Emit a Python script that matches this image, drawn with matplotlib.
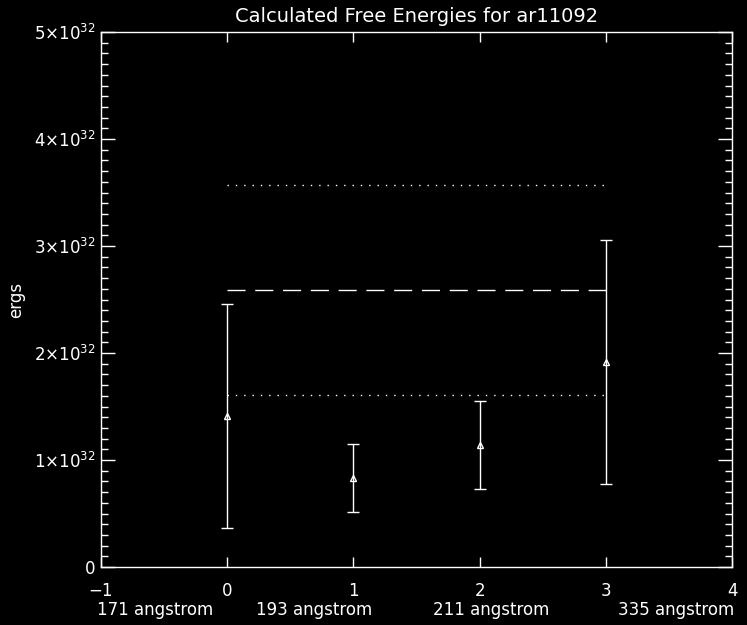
import matplotlib
matplotlib.use("Agg")
import matplotlib.pyplot as plt
from matplotlib.ticker import MultipleLocator, FixedLocator, FuncFormatter

# ---- data ----
positions = [0, 1, 2, 3]
wavelength_labels = ["171 angstrom", "193 angstrom", "211 angstrom", "335 angstrom"]
energy = [1.41e32, 0.83e32, 1.14e32, 1.92e32]
energy_err = [1.05e32, 0.32e32, 0.41e32, 1.14e32]
mean_level = 2.585e32
lower_level = 1.605e32
upper_level = 3.57e32
title = "Calculated Free Energies for ar11092"
ylabel = "ergs"

fg = "white"
bg = "black"

plt.rcParams["font.family"] = ["DejaVu Sans"]

fig = plt.figure(figsize=(7.47, 6.25), dpi=100, facecolor=bg)
ax = fig.add_axes([101/747, 1 - 567/625, 631/747, 535/625], facecolor=bg)

lw = 1.0
ax.errorbar(positions, energy, yerr=energy_err, fmt="^", color=fg, ecolor=fg,
            elinewidth=lw, capsize=4.5, capthick=lw, markersize=4.5,
            markerfacecolor="none", markeredgecolor=fg, markeredgewidth=lw)

xr = [positions[0], positions[-1]]
ax.plot(xr, [mean_level, mean_level], color=fg, lw=lw, linestyle=(0, (13, 7)))
ax.plot(xr, [lower_level, lower_level], color=fg, lw=lw, linestyle=(6, (1, 5)))
ax.plot(xr, [upper_level, upper_level], color=fg, lw=lw, linestyle=(0, (1, 5)))

ax.set_xlim(-1, 4)
ax.set_ylim(0, 5e32)

ax.xaxis.set_major_locator(FixedLocator([-1, 0, 1, 2, 3, 4]))
ax.xaxis.set_major_formatter(FuncFormatter(lambda v, p: "\u2212%d" % abs(v) if v < 0 else "%d" % v))
ax.yaxis.set_major_locator(MultipleLocator(1e32))
ax.yaxis.set_minor_locator(MultipleLocator(1e31))

def yfmt(v, p):
    n = int(round(v / 1e32))
    if n == 0:
        return "0"
    return r"$%d{\times}10^{32}$" % n
ax.yaxis.set_major_formatter(FuncFormatter(yfmt))

for s in ax.spines.values():
    s.set_color(fg)
    s.set_linewidth(lw)

ax.tick_params(axis="x", which="major", direction="in", length=7.2, width=lw,
               colors=fg, top=True, bottom=True, labelsize=12, pad=11)
ax.tick_params(axis="x", which="minor", bottom=False, top=False)
ax.tick_params(axis="y", which="major", direction="in", length=10, width=lw,
               colors=fg, left=True, right=True, labelsize=12, pad=4)
ax.tick_params(axis="y", which="minor", direction="in", length=5, width=lw,
               colors=fg, left=True, right=True)

ax.set_title(title, color=fg, fontsize=14, pad=7)
ax.set_ylabel(ylabel, color=fg, fontsize=12, labelpad=6)

# x title: wavelength names under the tick labels
label_centers = [(155 - 101) / 631, (314 - 101) / 631, (491 - 101) / 631, (676 - 101) / 631]
for name, cx in zip(wavelength_labels, label_centers):
    ax.text(cx, -0.081, name, transform=ax.transAxes, ha="center", va="center",
            color=fg, fontsize=12)

fig.savefig("out.png", dpi=100, facecolor=bg)
